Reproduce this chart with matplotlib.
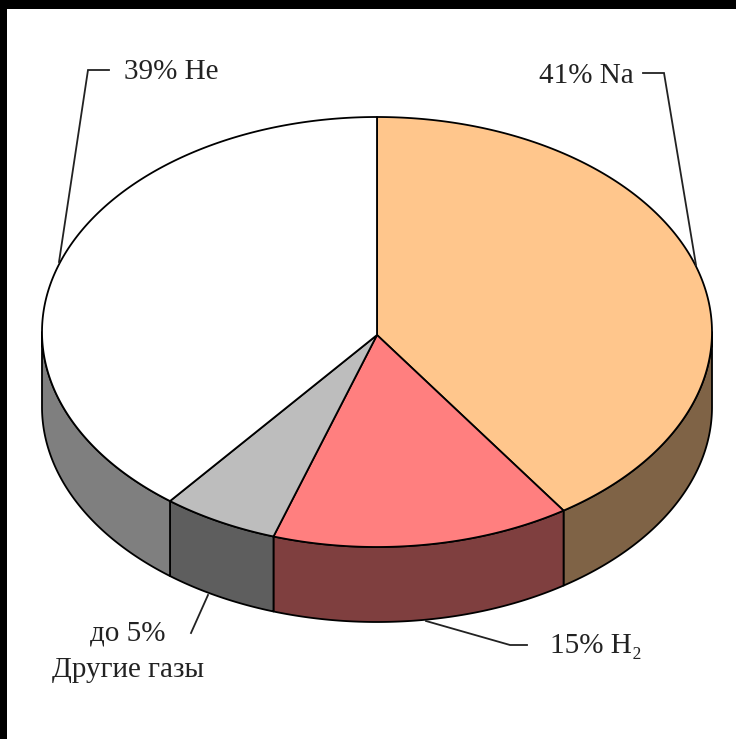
import numpy as np
import matplotlib
matplotlib.use("Agg")
import matplotlib.pyplot as plt
from matplotlib.patches import Polygon, Rectangle

# Shares as drawn (read from the slice boundaries), clockwise from 12 o'clock
names = ["Na", "H2", "Other", "He"]
shares = [40.6, 14.4, 5.6, 39.4]
top_colors = ["#FFC68C", "#FF7F7F", "#BDBDBD", "#FFFFFF"]
side_colors = ["#7F6346", "#7F3F3F", "#5E5E5E", "#7F7F7F"]

W, H = 736, 739
CX, CY, RX, RY, DEPTH = 377, 332, 335, 215, 75

fig = plt.figure(figsize=(W / 100, H / 100), dpi=100, facecolor="white")
ax = fig.add_axes([0, 0, 1, 1])
ax.set_xlim(0, W)
ax.set_ylim(H, 0)
ax.axis("off")

# black frame at top and left
ax.add_patch(Rectangle((0, 0), W, 9, fc="black", ec="none"))
ax.add_patch(Rectangle((0, 0), 7, H, fc="black", ec="none"))


def arc(a0, a1, dy=0.0, n=200):
    """a0,a1 are clockwise fractions of the full turn, starting at top."""
    t = np.linspace(a0, a1, n) * 2 * np.pi
    return np.column_stack([CX + RX * np.sin(t), CY + dy - RY * np.cos(t)])


LW = 1.3
edges = np.cumsum([0] + shares) / sum(shares)

# side walls (only the front half, fraction .25 to .75)
for i in range(len(shares)):
    a0, a1 = max(edges[i], 0.25), min(edges[i + 1], 0.75)
    if a1 <= a0:
        continue
    up = arc(a0, a1)
    down = arc(a0, a1, DEPTH)[::-1]
    ax.add_patch(Polygon(np.vstack([up, down]), closed=True, fc=side_colors[i],
                         ec="black", lw=LW, joinstyle="round", zorder=2))

# top faces
for i in range(len(shares)):
    pts = np.vstack([[CX, CY + 3], arc(edges[i], edges[i + 1])])
    ax.add_patch(Polygon(pts, closed=True, fc=top_colors[i], ec="black", lw=LW,
                         joinstyle="round", zorder=3))

# leader lines
leaders = [
    ([109, 88, 59], [70, 70, 262]),
    ([643, 664, 696], [73, 73, 265]),
    ([527, 510, 426], [645, 645, 621]),
    ([191, 208], [633, 595]),
]
for xs, ys in leaders:
    ax.plot(xs, ys, color="#222222", lw=LW, zorder=4, solid_joinstyle="miter")

font = dict(family="Liberation Serif", color="#222222", fontsize=21, zorder=5)
ax.text(124, 72, "39% He", ha="left", va="center", **font)
ax.text(539, 76, "41% Na", ha="left", va="center", **font)
ax.text(550, 646, "15% H₂", ha="left", va="center", **font)
ax.text(128, 634, "до 5%", ha="center", va="center", **font)
ax.text(128, 670, "Другие газы", ha="center", va="center", **font)

fig.savefig("out.png", dpi=100, facecolor="white")
